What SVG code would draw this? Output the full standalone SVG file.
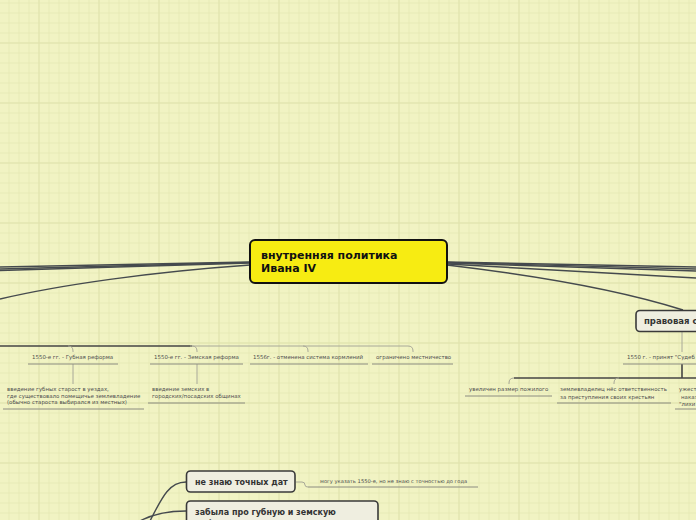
<svg xmlns="http://www.w3.org/2000/svg" width="696" height="520" viewBox="0 0 696 520">
<defs>
<pattern id="minor" width="10" height="10" patternUnits="userSpaceOnUse" x="-1.5" y="2.5">
<path d="M0.5 0V10M0 0.5H10" fill="none" stroke="#e7eab6" stroke-width="1"/>
</pattern>
<pattern id="major" width="60" height="60" patternUnits="userSpaceOnUse" x="-21.5" y="-17.5">
<path d="M0.5 0V60M0 0.5H60" fill="none" stroke="#e0e3ad" stroke-width="1"/>
</pattern>
<style>
.t{font-family:"DejaVu Sans",Verdana,sans-serif}
.small{font-size:5.45px;fill:#4f4f4f}
.node{fill:#efeee0;stroke:#3a3a3a;stroke-width:1.6}
.nt{font-size:8px;font-weight:bold;fill:#333}
.main{fill:#f7ec12;stroke:#111;stroke-width:2}
.mt{font-size:11px;font-weight:bold;fill:#111}
.ul{stroke:#8c8c80;stroke-width:1;fill:none}
.br{stroke:#a8a898;stroke-width:1;fill:none}
.dk{stroke:#444;stroke-width:1.6;fill:none}
.c{stroke:#454a4e;stroke-width:1.4;fill:none}
</style>
</defs>
<rect width="696" height="520" fill="#f1f3c3"/>
<rect width="696" height="520" fill="url(#minor)"/>
<rect width="696" height="520" fill="url(#major)"/>

<g id="connectors">
<path class="c" d="M250 262 L0 267"/>
<path class="c" d="M250 262.5 L0 269"/>
<path class="c" d="M250 263 L0 270.5"/>
<path class="c" d="M250 265 C150 272 60 285 0 299"/>
<path class="c" d="M447 262 L696 267"/>
<path class="c" d="M447 262.5 L696 269"/>
<path class="c" d="M447 263 L696 271"/>
<path class="c" d="M447 264 L696 278"/>
<path class="c" d="M447 265 C540 276 620 290 683 310"/>
<!-- left tree -->
<path class="dk" d="M0 346 H192"/>
<path class="br" d="M190 346 H408 Q413 346 413 351 V352"/>
<path class="br" d="M68 346 Q73 346 73 351 V352"/>
<path class="br" d="M192 346 Q197 346 197 351 V352"/>
<path class="br" d="M303 346 Q308 346 308 351 V352"/>
<path class="br" d="M73 364 V384"/>
<path class="br" d="M197 364 V384"/>
<!-- right tree -->
<path class="br" d="M682 332 V352"/>
<path class="dk" d="M682 364 V378"/>
<path class="dk" d="M514 378 H696"/>
<path class="br" d="M514 378 Q509 378 509 383 V384"/>
<path class="br" d="M619 378 Q614 378 614 383 V384"/>
<!-- bottom -->
<path class="c" d="M150 521 C163 495 170 482 186 482"/>
<path class="c" d="M138 522 C152 514 168 511 186 511"/>
<path class="br" d="M296 482 H302 Q305 482 305 485 Q305 487 308 487"/>
</g>

<g id="main">
<rect class="main" x="250" y="240" width="197" height="43" rx="5"/>
<text class="t mt" x="261" y="259">внутренняя политика</text>
<text class="t mt" x="261" y="272">Ивана IV</text>
</g>

<g id="pravovaya">
<rect class="node" x="636" y="310.5" width="70" height="21" rx="4"/>
<text class="t nt" x="644" y="324" style="font-size:8.5px">правовая с</text>
</g>

<g id="sudebnik">
<text class="t small" x="627" y="359">1550 г. - принят "Судеб</text>
<path class="ul" d="M623 364 H696"/>
</g>
<g id="pozhiloe">
<text class="t small" x="469" y="391">увеличен размер пожилого</text>
<path class="ul" d="M465 396 H552"/>
</g>
<g id="otvetstvennost">
<text class="t small" x="560" y="391">землевладелец нёс ответственность</text>
<text class="t small" x="560" y="398.5">за преступления своих крестьян</text>
<path class="ul" d="M557 403 H671"/>
</g>
<g id="uzhest">
<text class="t small" x="679" y="391">ужест</text>
<text class="t small" x="681" y="398.5">наказ</text>
<text class="t small" x="679" y="406">"лихи</text>
<path class="ul" d="M675 409 H696"/>
</g>

<g id="gubnaya">
<text class="t small" x="32" y="358.5">1550-е гг. - Губная реформа</text>
<path class="ul" d="M28 364 H118"/>
</g>
<g id="gubnye-starosty">
<text class="t small" x="7" y="391">введение губных старост в уездах,</text>
<text class="t small" x="7" y="397.5">где существовало помещичье землевладение</text>
<text class="t small" x="7" y="404">(обычно староста выбирался из местных)</text>
<path class="ul" d="M3 409 H144"/>
</g>
<g id="zemskaya">
<text class="t small" x="154" y="358.5">1550-е гг. - Земская реформа</text>
<path class="ul" d="M150 364 H243"/>
</g>
<g id="zemskie">
<text class="t small" x="152" y="391">введение земских в</text>
<text class="t small" x="152" y="398">городских/посадских общинах</text>
<path class="ul" d="M148 403 H245"/>
</g>
<g id="kormleniya">
<text class="t small" x="253" y="358.5">1556г. - отменена система кормлений</text>
<path class="ul" d="M250 364 H368"/>
</g>
<g id="mestnichestvo">
<text class="t small" x="376" y="358.5">ограничено местничество</text>
<path class="ul" d="M372 364 H453"/>
</g>

<g id="ne-znayu">
<rect class="node" x="186.5" y="471" width="108.5" height="21" rx="4"/>
<text class="t nt" x="195" y="484.5">не знаю точных дат</text>
</g>
<g id="mogu">
<text class="t small" x="320" y="483" style="font-size:5.2px">могу указать 1550-е, но не знаю с точностью до года</text>
<path class="ul" d="M308 487 H478"/>
</g>
<g id="zabyla">
<rect class="node" x="186.5" y="501" width="191.5" height="30" rx="4"/>
<text class="t nt" x="195" y="514.5">забыла про губную и земскую</text>
<text class="t nt" x="195" y="525.5">реформы</text>
</g>
</svg>
